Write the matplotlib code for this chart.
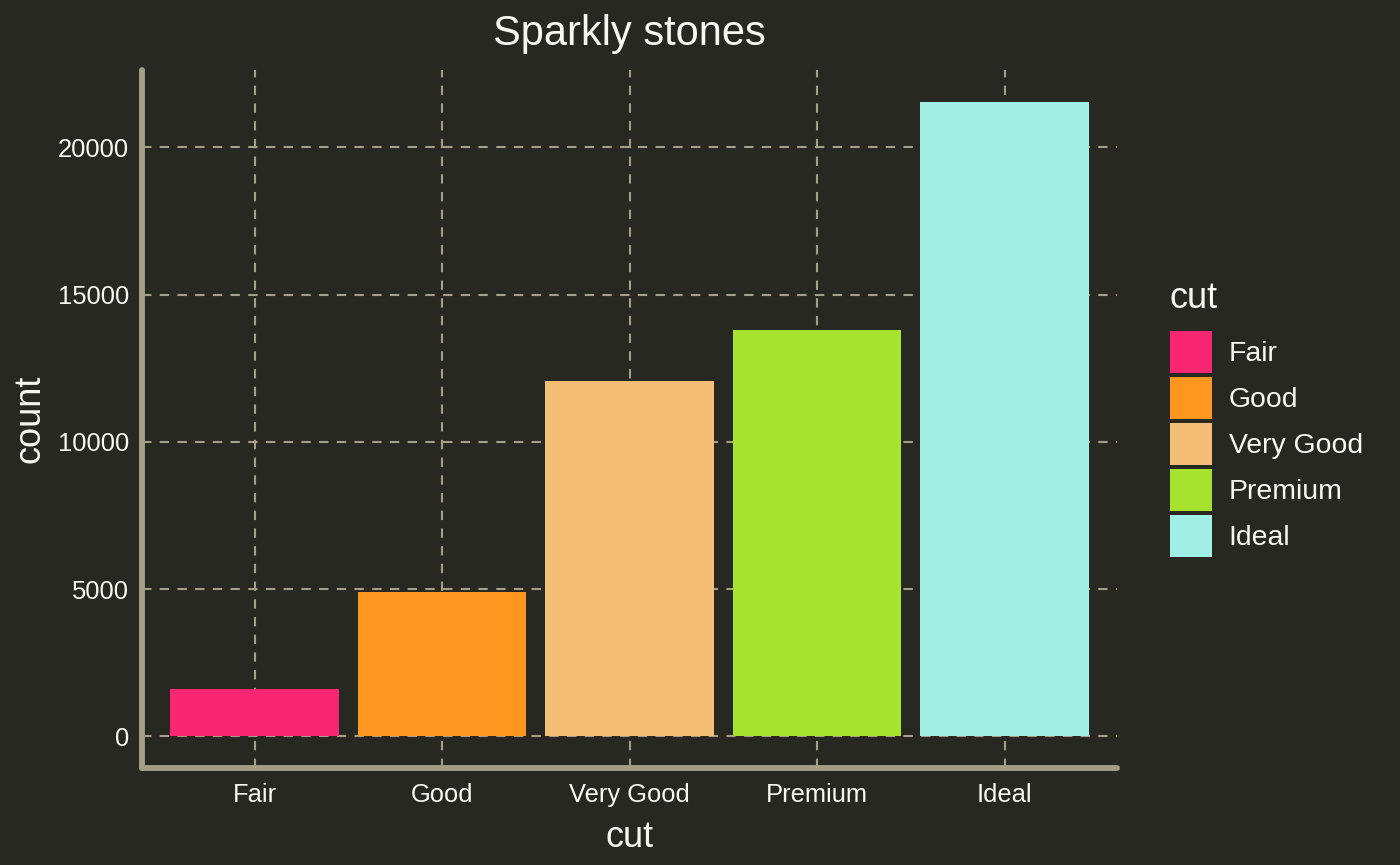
import matplotlib
matplotlib.use("Agg")
import matplotlib.pyplot as plt
from matplotlib.patches import Patch

cuts = ["Fair", "Good", "Very Good", "Premium", "Ideal"]
counts = [1610, 4906, 12082, 13791, 21551]
colors = ["#F92672", "#FD971F", "#F4BF75", "#A6E22E", "#A1EFE4"]
yticks = [0, 5000, 10000, 15000, 20000]

bg = "#272822"
fg = "#F8F8F2"
line_c = "#A59F85"

plt.rcParams['font.family'] = ['Liberation Sans', 'DejaVu Sans']

fig = plt.figure(figsize=(14, 8.65), dpi=100, facecolor=bg)
ax = fig.add_axes([142/1400, 1-768/865, (1117-142)/1400, (768-70)/865], facecolor=bg)

x = list(range(1, len(cuts)+1))
ax.bar(x, counts, width=0.9, color=colors, zorder=3)

ymax = max(counts)
pad = ymax * 0.05
ax.set_ylim(-pad, ymax + pad)
ax.set_xlim(0.4, len(cuts) + 0.6)
ax.set_xticks(x)
ax.set_xticklabels(cuts)
ax.set_yticks(yticks)
ax.set_yticklabels([str(v) for v in yticks])

ax.grid(True, color=line_c, linestyle=(0, (4.5, 4.0)), linewidth=1.5, zorder=1)
ax.tick_params(length=0, colors=fg, labelsize=18.4)
ax.tick_params(axis='y', pad=9.5)
ax.tick_params(axis='x', pad=10.5)
for s in ["top", "right"]:
    ax.spines[s].set_visible(False)
for s in ["left", "bottom"]:
    ax.spines[s].set_color(line_c)
    ax.spines[s].set_linewidth(4.2)
    ax.spines[s].set_capstyle('round')
    ax.spines[s].set_zorder(4)

ax.set_xlabel("cut", color=fg, fontsize=26, labelpad=10)
ax.set_ylabel("count", color=fg, fontsize=26, labelpad=7)
ax.set_title("Sparkly stones", color=fg, fontsize=30, pad=18)

handles = [Patch(facecolor=c, edgecolor='none', label=l) for c, l in zip(colors, cuts)]
leg = fig.legend(handles=handles, title="cut", loc='upper left',
                 bbox_to_anchor=(1161/1400, 1-272/865),
                 frameon=False, fontsize=20.4, title_fontsize=26,
                 handlelength=1.484, handleheight=1.906, labelspacing=0.14,
                 handletextpad=0.6, borderaxespad=0, borderpad=0.3)
for t in leg.get_texts():
    t.set_color(fg)
leg.get_title().set_color(fg)
leg._legend_box.align = "left"
leg._legend_box.sep = 10.8

fig.savefig("out.png", dpi=100, facecolor=bg)
